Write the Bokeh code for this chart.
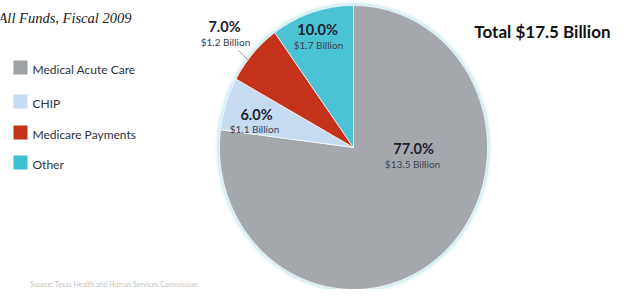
import numpy as np
from bokeh.plotting import figure
from bokeh.models import Range1d
from bokeh.core.properties import value
from bokeh.embed import file_html
from bokeh.resources import INLINE

# ---- data ----
categories = ["Medical Acute Care", "CHIP", "Medicare Payments", "Other"]
shares = [77.0, 6.0, 7.0, 10.0]
billions = [13.5, 1.1, 1.2, 1.7]
colors = ["#a4a8ad", "#c6dbf0", "#c4321b", "#4cc2d5"]
legend_colors = ["#9ea1a6", "#c6dbf0", "#c4321b", "#3fbfd3"]
title_text = "All Funds, Fiscal 2009"
total_text = "Total $17.5 Billion"
source_text = "Source: Texas Health and Human Services Commission."

# ---- layout (screen pixel coordinates) ----
W, H = 613, 289
p = figure(width=W, height=H, output_backend="svg", toolbar_location=None,
           x_range=Range1d(0, W), y_range=Range1d(H, 0),
           min_border=0, outline_line_color=None)
p.axis.visible = False
p.grid.visible = False
p.background_fill_color = "white"
p.border_fill_color = "white"

cx, cy, rx, ry = 353, 147, 134, 142

# soft glow around pie
t = np.linspace(0, 2 * np.pi, 240)
for w, a in [(7, 0.15), (4, 0.25), (2, 0.4)]:
    p.line(cx + (rx + 1) * np.cos(t), cy - (ry + 1) * np.sin(t),
           line_color="#b9e4ee", line_width=w, line_alpha=a)

# wedges (clockwise from top)
total = sum(shares)
start = 90.0
xs, ys = [], []
for s in shares:
    sweep = 360.0 * s / total
    a0, a1 = start, start - sweep
    th = np.radians(np.linspace(a0, a1, max(4, int(sweep * 2))))
    xs.append(np.concatenate([[cx], cx + rx * np.cos(th)]).tolist())
    ys.append(np.concatenate([[cy], cy - ry * np.sin(th)]).tolist())
    start = a1
p.patches(xs, ys, fill_color=colors, line_color="white", line_width=1, line_alpha=0.7)

# slice labels
pct_x = [413, 256, 224, 317]
pct_y = [148, 114, 26, 29]
bil_x = [412, 254, 225, 318]
bil_y = [163, 128, 41, 44]
pct_labels = [f"{s:.1f}%" for s in shares]
bil_labels = [f"${b} Billion" for b in billions]
p.text(pct_x, pct_y, text=pct_labels, text_font=value("Lato"), text_font_style="bold",
       text_font_size="14.5px", text_color="#1c2030", text_align="center", text_baseline="middle")
p.text(bil_x, bil_y, text=bil_labels, text_font=value("Lato"),
       text_font_size="10px", text_color="#3b4050", text_align="center", text_baseline="middle")
# leader line for Medicare label
p.line([238, 248], [50, 60], line_color="#9a9a9a", line_width=1)

# legend
leg_y = [67, 101, 132, 162]
p.rect([20] * 4, leg_y, width=14, height=14, fill_color=legend_colors, line_color=None)
p.text([32] * 4, [y + 2 for y in leg_y], text=categories, text_font=value("Lato"),
       text_font_size="12px", text_color="#2c3140", text_align="left", text_baseline="middle")

# title / total / source
p.text([-2], [17], text=[title_text], text_font=value("Liberation Serif"), text_font_style="italic",
       text_font_size="14.5px", text_color="#222222", text_align="left", text_baseline="alphabetic")
p.text([610], [31], text=[total_text], text_font=value("Lato"), text_font_style="bold",
       text_font_size="17px", text_color="#111111", text_align="right", text_baseline="middle")
p.text([30], [283], text=[source_text], text_font=value("Lato"),
       text_font_size="7px", text_color="#c4c4c4", text_align="left", text_baseline="middle")

open("out.html", "w").write(file_html(p, INLINE))
